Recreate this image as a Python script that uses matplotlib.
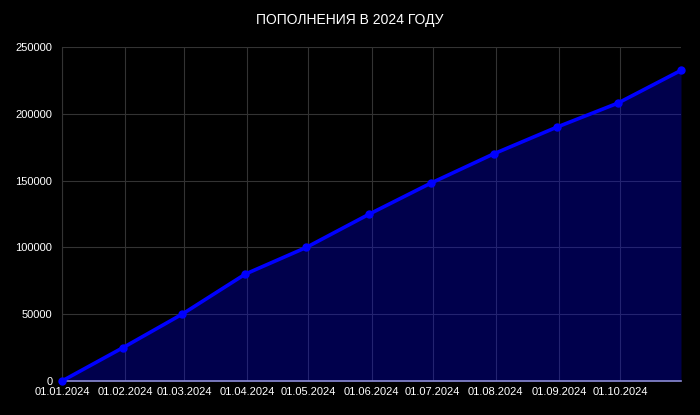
import numpy as np
import pandas as pd
import matplotlib
matplotlib.use('Agg')
import matplotlib.pyplot as plt
import matplotlib.dates as mdates

# data (end-of-month totals)
dates = ['2024-01-01', '2024-01-31', '2024-02-29', '2024-03-31', '2024-04-30',
         '2024-05-31', '2024-06-30', '2024-07-31', '2024-08-31', '2024-09-30',
         '2024-10-31']
amounts = [0, 25000, 50000, 80000, 100000, 125000, 148000, 170000, 190000, 208000, 232500]
tick_dates = ['2024-01-01', '2024-02-01', '2024-03-01', '2024-04-01', '2024-05-01',
              '2024-06-01', '2024-07-01', '2024-08-01', '2024-09-01', '2024-10-01']
tick_labels = ['01.01.2024', '01.02.2024', '01.03.2024', '01.04.2024', '01.05.2024',
               '01.06.2024', '01.07.2024', '01.08.2024', '01.09.2024', '01.10.2024']
y_ticks = [0, 50000, 100000, 150000, 200000, 250000]

plt.rcParams['font.family'] = ['Liberation Sans', 'DejaVu Sans']

x = pd.to_datetime(dates)
xt = pd.to_datetime(tick_dates)

fig = plt.figure(figsize=(7, 4.15), dpi=100, facecolor='black')
ax = fig.add_axes([62 / 700, 1 - 381 / 415, (681 - 62) / 700, (381 - 47) / 415])
ax.set_facecolor('black')

ax.fill_between(x, amounts, 0, color='#0000ff', alpha=0.3, linewidth=0, zorder=2)
ax.plot(x, amounts, color='#0000ff', linewidth=2.6, marker='o', markersize=5,
        zorder=3, clip_on=False)

ax.set_xlim(x[0], x[-1])
ax.set_ylim(0, 250000)
ax.set_xticks(xt)
ax.set_xticklabels(tick_labels)
ax.set_yticks(y_ticks)
ax.set_yticklabels([str(v) for v in y_ticks])
ax.tick_params(colors='white', labelsize=8, length=0, pad=4)
ax.tick_params(axis='y', pad=7)

ax.grid(True, color='#333333', linewidth=0.8, zorder=1)
ax.set_axisbelow(True)
for s in ['top', 'right']:
    ax.spines[s].set_visible(False)
ax.spines['left'].set_color('#333333')
ax.spines['bottom'].set_color('#8c8cd0')
ax.spines['bottom'].set_linewidth(1.2)

fig.text(0.5, 1 - 20 / 415, 'ПОПОЛНЕНИЯ В 2024 ГОДУ', color='white',
         fontsize=10, ha='center', va='center')

fig.savefig('out.png', dpi=100, facecolor='black')
